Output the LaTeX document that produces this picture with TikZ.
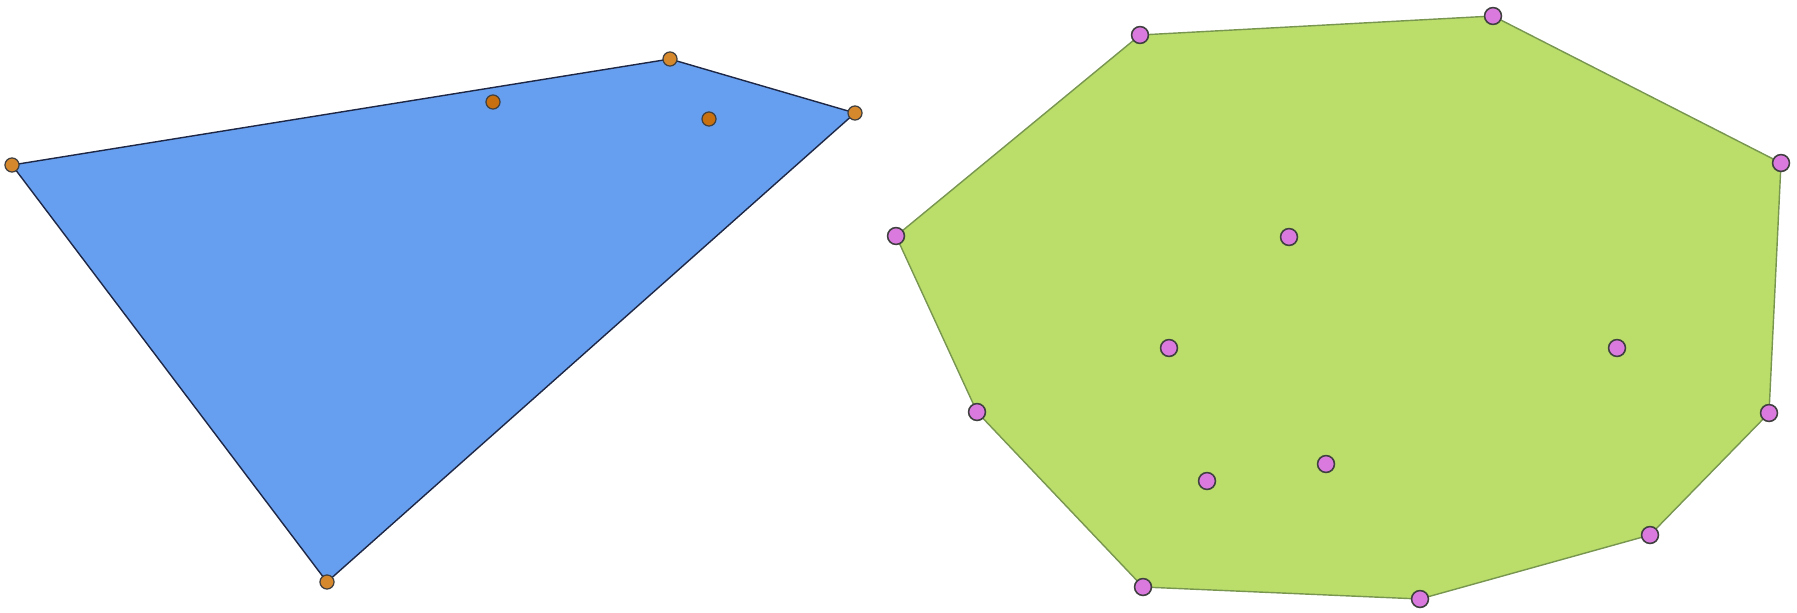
\documentclass[tikz,border=0pt]{standalone}
\begin{document}
\begin{tikzpicture}[x=0.01cm,y=-0.01cm,
  odot/.style={circle,draw=black!75,line width=0.35pt,fill={rgb,255:red,214;green,136;blue,45},inner sep=0pt,minimum size=4pt},
  odotin/.style={odot,fill={rgb,255:red,200;green,112;blue,16}},
  pdot/.style={circle,draw=black!75,line width=0.45pt,fill={rgb,255:red,218;green,122;blue,222},inner sep=0pt,minimum size=4.8pt},
  bluepoly/.style={fill={rgb,255:red,103;green,159;blue,240},draw={rgb,255:red,30;green,40;blue,70},line width=0.4pt,line join=round},
  greenpoly/.style={fill={rgb,255:red,186;green,222;blue,105},draw={rgb,255:red,120;green,150;blue,80},line width=0.4pt,line join=round}]
\useasboundingbox (0,0) rectangle (1797,612);
% left hull
\coordinate (l1) at (12,165);
\coordinate (l2) at (670,59);
\coordinate (l3) at (855,113);
\coordinate (l4) at (327,582);
\path[bluepoly] (l1) -- (l2) -- (l3) -- (l4) -- cycle;
\node[odot] (L1) at (l1) {};
\node[odot] (L2) at (l2) {};
\node[odot] (L3) at (l3) {};
\node[odot] (L4) at (l4) {};
\node[odotin] (L5) at (493,102) {};
\node[odotin] (L6) at (709,119) {};
% right hull
\coordinate (r1) at (1140,35);
\coordinate (r2) at (1493,16);
\coordinate (r3) at (1781,163);
\coordinate (r4) at (1769,413);
\coordinate (r5) at (1650,535);
\coordinate (r6) at (1420,599);
\coordinate (r7) at (1143,587);
\coordinate (r8) at (977,412);
\coordinate (r9) at (896,236);
\path[greenpoly] (r1) -- (r2) -- (r3) -- (r4) -- (r5) -- (r6) -- (r7) -- (r8) -- (r9) -- cycle;
\foreach \i in {1,...,9} { \node[pdot] (R\i) at (r\i) {}; }
\node[pdot] (R10) at (1289,237) {};
\node[pdot] (R11) at (1169,348) {};
\node[pdot] (R12) at (1617,348) {};
\node[pdot] (R13) at (1326,464) {};
\node[pdot] (R14) at (1207,481) {};
\end{tikzpicture}
\end{document}
